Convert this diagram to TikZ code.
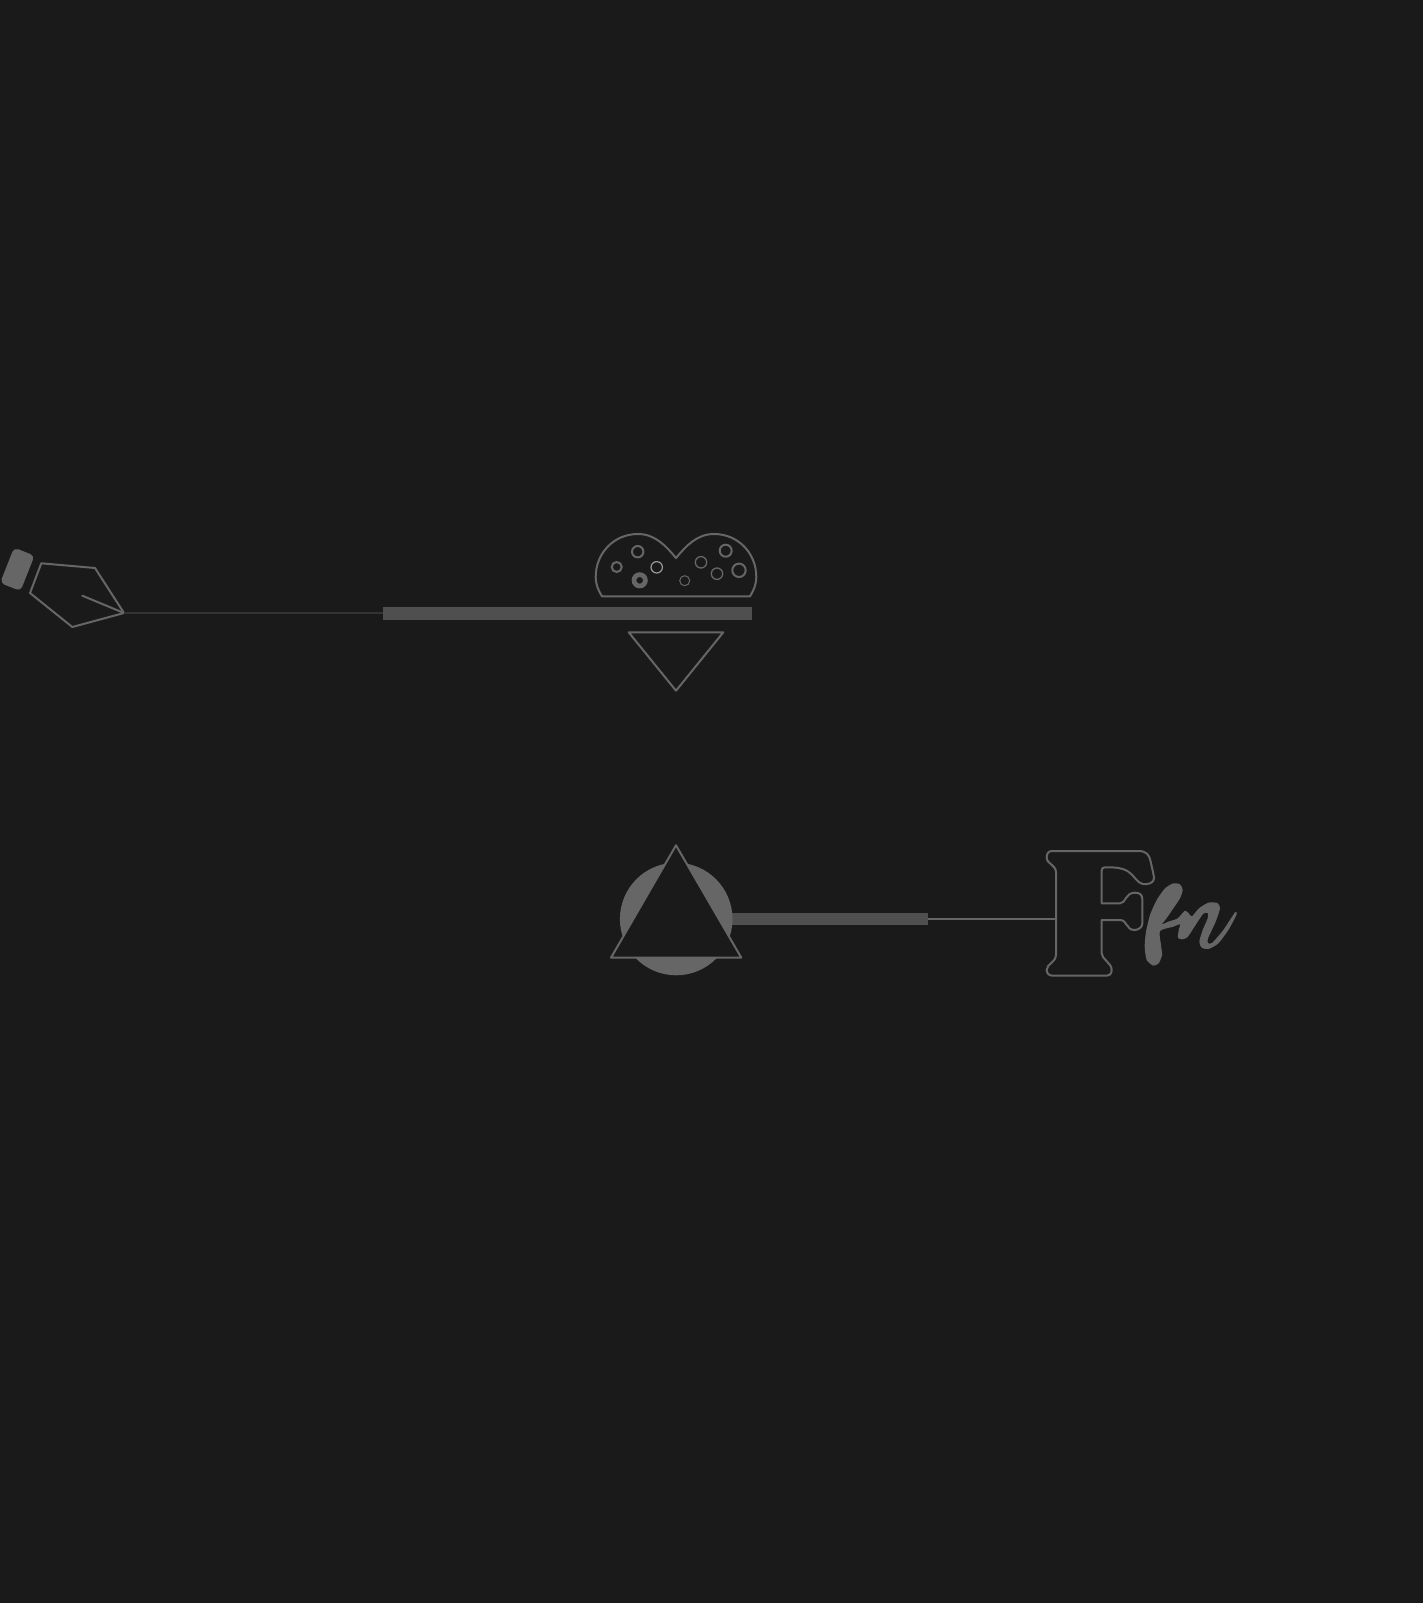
\documentclass[tikz,border=0pt]{standalone}
\definecolor{bgc}{HTML}{1A1A1A}
\definecolor{ink}{HTML}{666666}
\definecolor{barc}{HTML}{4F4F4F}
\definecolor{thinc}{HTML}{333333}
\tikzset{
  outl/.style={draw=ink,line width=2pt,line join=round,line cap=round},
  bubble/.style={draw=ink,fill=none}
}
\begin{document}
\begin{tikzpicture}[x=1pt,y=-1pt]
\useasboundingbox (0,0) rectangle (1427,1603);
\fill[white] (0,0) rectangle (1427,1603);
\fill[bgc] (0,0) rectangle (1423,1602.5);
% pen
\fill[ink,rounded corners=4.5pt,rotate around={-21.6:(17.3,569.3)}] (6.3,550.3) rectangle (28.3,588.3);
\coordinate (tip) at (124,613);
\coordinate (barL) at (383,613);
\draw[outl] (41.3,563.3) -- (95,568) -- (tip) -- (72.3,627) -- (30,593) -- cycle;
\draw[outl] (82.3,595.7) -- (tip);
\draw[thinc,line width=2pt] (tip) -- (barL);
\fill[barc] (383,607) rectangle (752,619.7);
% heart
\draw[outl] (602,596.3) .. controls (598,590) and (595.7,584) .. (595.7,577)
  .. controls (595.7,553) and (614,534) .. (638,534)
  .. controls (655,534) and (666,546) .. (676,558)
  .. controls (686,546) and (697,534) .. (714,534)
  .. controls (738,534) and (756.3,553) .. (756.3,577)
  .. controls (756.3,584) and (754,590) .. (750,596.3) -- cycle;
\draw[bubble,line width=2pt] (637.7,551.7) circle (5.7);
\draw[bubble,line width=2pt] (616.7,567) circle (5);
\draw[bubble,line width=1.2pt,draw=white!60!black] (656.7,567.3) circle (5.7);
\draw[bubble,line width=4.7pt] (639.7,580.3) circle (5.7);
\draw[bubble,line width=1pt] (684.7,580.7) circle (5);
\draw[bubble,line width=1.3pt] (701,562.3) circle (5.7);
\draw[bubble,line width=1.3pt] (717,573.7) circle (5.7);
\draw[bubble,line width=2pt] (725.7,550.7) circle (6);
\draw[bubble,line width=2pt] (739,570.3) circle (6.7);
% inverted triangle
\draw[outl] (628.7,632.3) -- (723.3,632.3) -- (676,690.7) -- cycle;
% lower row
\fill[barc] (720,912.7) rectangle (927.7,925.3);
\coordinate (lineL) at (927.7,919);
\coordinate (lineR) at (1056,919);
\draw[ink,line width=2pt] (lineL) -- (lineR);
\fill[ink] (676.2,919) circle (56.3);
\draw[outl,fill=bgc] (676,845.3) -- (741.3,957.7) -- (611,957.7) -- cycle;
% F
\begin{scope}[shift={(1040,840)},x=.33333pt,y=-.33333pt]
\draw[outl,fill=bgc] (36,33) -- (295,33)
  .. controls (320,33) and (328,45) .. (332,65)
  .. controls (336,85) and (342,105) .. (342,115)
  .. controls (342,128) and (325,135) .. (308,132)
  .. controls (290,128) and (282,105) .. (265,95)
  .. controls (245,82) and (225,82) .. (195,82)
  .. controls (188,82) and (185,85) .. (185,92)
  -- (185,190) -- (240,190)
  .. controls (258,190) and (255,158) .. (285,158)
  .. controls (300,158) and (307,165) .. (307,178)
  -- (307,250)
  .. controls (307,262) and (295,270) .. (283,270)
  .. controls (258,270) and (262,240) .. (240,240)
  -- (185,240) -- (185,340)
  .. controls (185,358) and (215,368) .. (215,390)
  .. controls (215,402) and (208,407) .. (198,407)
  -- (38,407)
  .. controls (27,407) and (20,400) .. (20,390)
  .. controls (20,370) and (48,370) .. (48,342)
  -- (48,98)
  .. controls (48,72) and (20,74) .. (20,52)
  .. controls (20,40) and (26,33) .. (36,33) -- cycle;
\end{scope}
% fn
\begin{scope}[shift={(1140,875)},x=.33333pt,y=-.33333pt]
\fill[ink] plot[smooth cycle,tension=.4] coordinates {
 (40,272) (20,255) (14,215) (18,170) (30,120) (50,75) (75,40) (100,25) (120,28) (128,45) (120,70) (100,100) (78,132) (66,148)
 (85,140) (113,130) (135,107) (147,116) (156,124) (177,100) (205,83) (232,84) (240,100) (227,140) (204,190) (204,204) (216,204) (250,165) (285,112) (290,118) (265,165) (235,205) (205,222) (185,218) (178,200) (188,165) (203,130) (203,114) (190,116) (168,148) (142,187) (125,193) (114,188) (116,165) (120,148)
 (100,155) (60,168) (63,210) (66,240) (56,265)};
\end{scope}
\end{tikzpicture}
\end{document}
